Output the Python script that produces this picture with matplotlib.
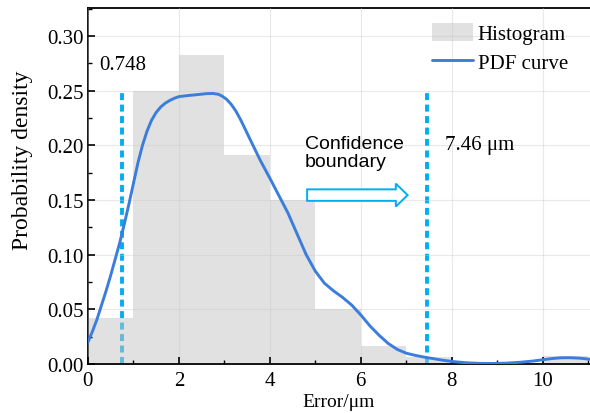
import matplotlib
matplotlib.use("Agg")
import matplotlib.pyplot as plt
import matplotlib.patches as mpatches
from matplotlib.ticker import MultipleLocator, FormatStrFormatter

plt.rcParams['font.family'] = ['Liberation Serif', 'DejaVu Serif']

# Histogram data (bin edges width 1)
bin_left = [0, 1, 2, 3, 4, 5, 6, 7, 8, 9, 10]
bin_height = [0.0418, 0.250, 0.283, 0.191, 0.150, 0.0503, 0.0162, 0.0065, 0.0, 0.0, 0.0070]

# PDF curve
pdf_x = [0.0, 0.1, 0.2, 0.3, 0.4, 0.5, 0.6, 0.7, 0.8, 0.9, 1.0, 1.1, 1.2, 1.3, 1.4, 1.5,
         1.6, 1.7, 1.8, 1.9, 2.0, 2.2, 2.4, 2.6, 2.75, 2.87, 2.95, 3.05, 3.15, 3.25, 3.35,
         3.45, 3.6, 3.8, 4.0, 4.2, 4.4, 4.6, 4.8, 5.0, 5.2, 5.4, 5.6, 5.8, 6.0, 6.2, 6.4,
         6.6, 6.8, 7.0, 7.2, 7.4, 7.6, 7.8, 8.0, 8.3, 8.6, 8.9, 9.2, 9.5, 9.8, 10.0, 10.2,
         10.4, 10.6, 10.8, 11.04]
pdf_y = [0.020, 0.030, 0.041, 0.054, 0.067, 0.081, 0.096, 0.111, 0.128, 0.146, 0.165,
         0.184, 0.200, 0.213, 0.223, 0.230, 0.235, 0.2385, 0.241, 0.243, 0.2445, 0.2455,
         0.2463, 0.2472, 0.2474, 0.2466, 0.2450, 0.2420, 0.2375, 0.2315, 0.2240, 0.2155,
         0.2025, 0.1855, 0.1700, 0.1540, 0.1380, 0.1190, 0.1000, 0.0850, 0.0740, 0.0670,
         0.0610, 0.0540, 0.0450, 0.0350, 0.0265, 0.0190, 0.0135, 0.0100, 0.0080, 0.0064,
         0.0050, 0.0036, 0.0025, 0.0013, 0.0007, 0.0006, 0.0009, 0.0017, 0.0029, 0.0040,
         0.0051, 0.0058, 0.0059, 0.0055, 0.0045]

bounds = [0.748, 7.46]
bound_top = 0.25

fig = plt.figure(figsize=(5.9, 4.14), dpi=100)
ax = fig.add_axes([0.149, 0.118, 0.851, 0.860])

for b in bounds:
    ax.plot([b, b], [0, bound_top], color='#00AEEF', linewidth=2.8,
            linestyle=(0, (1.8, 1.15)), zorder=0.8)

hist = ax.bar(bin_left, bin_height, width=1.0, align='edge', color='#C4C4C4', alpha=0.5,
              edgecolor='none', zorder=1, label='Histogram')
ax.grid(True, color='#c8c8c8', alpha=0.4, linewidth=0.8, zorder=1.5)
ax.set_axisbelow(False)

line, = ax.plot(pdf_x, pdf_y, color='#3B7DDD', linewidth=2.1, zorder=3,
                label='PDF curve', solid_capstyle='round', solid_joinstyle='round')

arrow = mpatches.FancyArrow(4.82, 0.1545, 1.95, 0.0, width=0.0105, head_width=0.021,
                            head_length=0.26, length_includes_head=False,
                            facecolor='white', edgecolor='#00AEEF', linewidth=1.4, zorder=4)
ax.add_patch(arrow)

ax.text(4.77, 0.2095, 'Confidence\nboundary', ha='left', va='top', fontsize=14,
        family=['Liberation Sans', 'DejaVu Sans'], linespacing=1.05, zorder=5)
ax.text(7.85, 0.2095, '7.46 μm', ha='left', va='top', fontsize=15, zorder=5)
ax.text(0.24, 0.2825, '0.748', ha='left', va='top', fontsize=15, zorder=5)

ax.set_xlim(0, 11.04)
ax.set_ylim(0, 0.3254)
ax.xaxis.set_major_locator(MultipleLocator(2))
ax.xaxis.set_minor_locator(MultipleLocator(1))
ax.yaxis.set_major_locator(MultipleLocator(0.05))
ax.yaxis.set_minor_locator(MultipleLocator(0.025))
ax.yaxis.set_major_formatter(FormatStrFormatter('%.2f'))
ax.tick_params(which='both', direction='in', top=False, right=False, labelsize=15)
ax.tick_params(which='major', length=5, width=1.2)
ax.tick_params(which='minor', length=3, width=1.0)
ax.tick_params(axis='x', pad=5)
ax.tick_params(axis='y', pad=3)
for s in ['left', 'bottom', 'top']:
    ax.spines[s].set_linewidth(1.3)
ax.spines['right'].set_visible(False)

ax.set_xlabel('Error/μm', fontsize=14, labelpad=2)
ax.set_ylabel('Probability density', fontsize=17)
ax.yaxis.set_label_coords(-0.109, 0.576)

leg = ax.legend([hist, line], ['Histogram', 'PDF curve'], loc='upper right',
                bbox_to_anchor=(0.985, 1.0), frameon=False, fontsize=15,
                handlelength=2.0, handleheight=0.95, handletextpad=0.2, labelspacing=0.4,
                borderaxespad=0.3)

fig.savefig('out.png', dpi=100)
